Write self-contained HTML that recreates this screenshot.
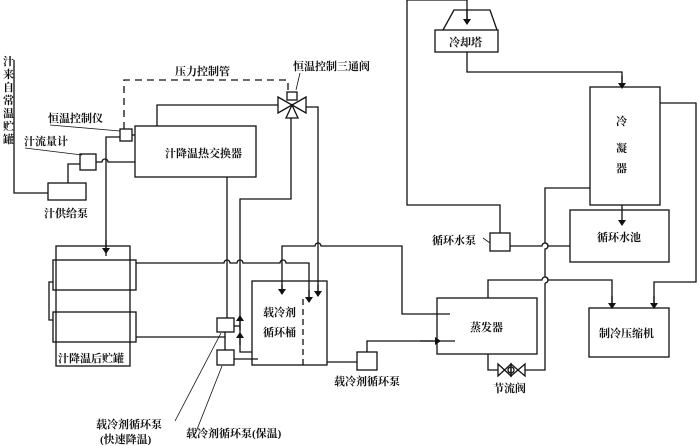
<!DOCTYPE html>
<html><head><meta charset="utf-8"><style>
html,body{margin:0;padding:0;background:#fff}
svg{display:block}
text{font-family:"Liberation Serif","Noto Serif CJK SC","Noto Sans CJK SC",serif;font-size:11px;fill:#111;font-weight:bold}
</style></head><body>
<svg width="700" height="446" viewBox="0 0 700 446" xmlns="http://www.w3.org/2000/svg">
<defs><marker id="a" markerWidth="6" markerHeight="8" refX="5" refY="4" orient="auto" markerUnits="userSpaceOnUse"><path d="M0,0 L6,4 L0,8 Z" fill="#111"/></marker></defs>
<g fill="none" stroke="#111" stroke-width="1.3">
<!-- left inlet -->
<polyline points="14,60 14,193 48,193"/>
<rect x="48" y="183" width="38" height="17"/>
<polyline points="68,183 68,164 80,164"/>
<rect x="80" y="154" width="16" height="16"/>
<path d="M96,162 H102 a3,3 0 0 1 6,0 H135"/>
<polyline points="106,256 106,137 120,137"/>
<line x1="106" y1="240" x2="106" y2="253" marker-end="url(#a)"/>
<rect x="120" y="129" width="12" height="12"/>
<line x1="132" y1="135" x2="135" y2="135"/>
<line x1="50" y1="125" x2="120" y2="131" stroke-width="0.8"/>
<line x1="25" y1="148" x2="82" y2="155" stroke-width="0.8"/>
<!-- heat exchanger -->
<rect x="135" y="126" width="121" height="51"/>
<path d="M124,129 V80 H288 V92" stroke-dasharray="7,5"/>
<polyline points="157,126 157,105 278,105"/>
<!-- valve -->
<rect x="287" y="92" width="10" height="8"/>
<path d="M278,97 L292,105 L278,113 Z"/>
<path d="M306,97 L292,105 L306,113 Z"/>
<path d="M286,118 L292,105 L298,118 Z"/>
<polyline points="306,107 318,107 318,296"/>
<line x1="318" y1="285" x2="318" y2="296" marker-end="url(#a)"/>
<line x1="296" y1="90" x2="300" y2="73" stroke-width="0.8"/>
<polyline points="291,118 291,199 240,199 240,352 252,352"/>
<line x1="240" y1="330" x2="240" y2="316" marker-end="url(#a)"/>
<line x1="240" y1="345" x2="240" y2="333" marker-end="url(#a)"/>
<line x1="234" y1="326" x2="240" y2="326"/>
<line x1="227" y1="177" x2="227" y2="318"/>
<!-- storage tanks -->
<rect x="56" y="246" width="74" height="120"/>
<rect x="53" y="260" width="83" height="30"/>
<rect x="53" y="312" width="83" height="30"/>
<polyline points="53,282 49,282 49,320 53,320"/>
<path d="M136,263 H224 a3,3 0 0 1 6,0 H237 a3,3 0 0 1 6,0 H280 a3,3 0 0 1 6,0 H309 V300"/>
<line x1="309" y1="290" x2="309" y2="302" marker-end="url(#a)"/>
<polyline points="136,337 225,337"/>
<!-- pumps -->
<rect x="217" y="318" width="17" height="14"/>
<rect x="217" y="350" width="17" height="15"/>
<line x1="225" y1="332" x2="225" y2="350"/>
<line x1="234" y1="359" x2="258" y2="359"/>
<line x1="221" y1="333" x2="175" y2="421" stroke-width="0.8"/>
<line x1="222" y1="366" x2="196" y2="432" stroke-width="0.8"/>
<!-- tank -->
<rect x="252" y="281" width="75" height="84"/>
<line x1="303" y1="299" x2="303" y2="365" stroke-dasharray="6,4"/>
<path d="M282,293 V246 H315 a3,3 0 0 1 6,0 H402 V314 H450"/>
<line x1="282" y1="285" x2="282" y2="294" marker-end="url(#a)"/>
<polyline points="327,362 357,362"/>
<rect x="357" y="352" width="20" height="18"/>
<polyline points="367,352 367,341 455,341"/>
<line x1="420" y1="341" x2="440" y2="341" marker-end="url(#a)"/>
<!-- evaporator -->
<rect x="437" y="298" width="100" height="56"/>
<polyline points="488,354 488,370 498,370"/>
<path d="M498,364 L511,376 L511,364 L498,376 Z"/>
<path d="M525,364 L511,376 L511,364 L525,376 Z"/>
<circle cx="511" cy="370" r="3"/>
<polyline points="525,370 545,370 545,283"/>
<path d="M545,277 V249 a3,3 0 0 0 0,-6 V188 H590"/>
<path d="M545,283 a3,3 0 0 0 0,-6"/>
<path d="M488,298 V280 H542 a3,3 0 0 1 6,0 H612 V308"/>
<line x1="612" y1="296" x2="612" y2="308" marker-end="url(#a)"/>
<!-- cooling water -->
<polyline points="500,233 500,205 407,205 407,0 467,0 467,24"/>
<line x1="467" y1="10" x2="467" y2="24" marker-end="url(#a)"/>
<path d="M443,30 L454,10 L490,10 L497,30"/>
<rect x="435" y="30" width="63" height="22"/>
<polyline points="467,52 467,72 622,72 622,87"/>
<line x1="622" y1="76" x2="622" y2="88" marker-end="url(#a)"/>
<rect x="590" y="87" width="70" height="118"/>
<line x1="622" y1="205" x2="622" y2="225" marker-end="url(#a)"/>
<rect x="570" y="210" width="99" height="52"/>
<rect x="490" y="233" width="20" height="18"/>
<line x1="483" y1="238" x2="490" y2="243" stroke-width="0.8"/>
<path d="M510,246 H542 a3,3 0 0 1 6,0 H570"/>
<polyline points="660,103 696,103 696,282 654,282 654,308"/>
<line x1="654" y1="296" x2="654" y2="308" marker-end="url(#a)"/>
<rect x="589" y="308" width="80" height="49"/>
</g>
<!-- labels -->
<g>
<text x="3" y="65">汁</text><text x="3" y="78">来</text><text x="3" y="91">自</text><text x="3" y="104">常</text><text x="3" y="117">温</text><text x="3" y="130">贮</text><text x="3" y="143">罐</text>
<text x="48" y="122">恒温控制仪</text>
<text x="24" y="145">汁流量计</text>
<text x="44" y="217">汁供给泵</text>
<text x="165" y="157">汁降温热交换器</text>
<text x="175" y="75">压力控制管</text>
<text x="293" y="70">恒温控制三通阀</text>
<text x="58" y="362">汁降温后贮罐</text>
<text x="263" y="316">载冷剂</text>
<text x="263" y="336">循环桶</text>
<text x="334" y="385">载冷剂循环泵</text>
<text x="96" y="428">载冷剂循环泵</text>
<text x="100" y="443">(快速降温)</text>
<text x="186" y="437">载冷剂循环泵(保温)</text>
<text x="470" y="331">蒸发器</text>
<text x="493" y="392">节流阀</text>
<text x="449" y="46">冷却塔</text>
<text x="616" y="125">冷</text>
<text x="616" y="152">凝</text>
<text x="616" y="172">器</text>
<text x="597" y="241">循环水池</text>
<text x="432" y="244">循环水泵</text>
<text x="599" y="337">制冷压缩机</text>
</g>
</svg>
</body></html>
